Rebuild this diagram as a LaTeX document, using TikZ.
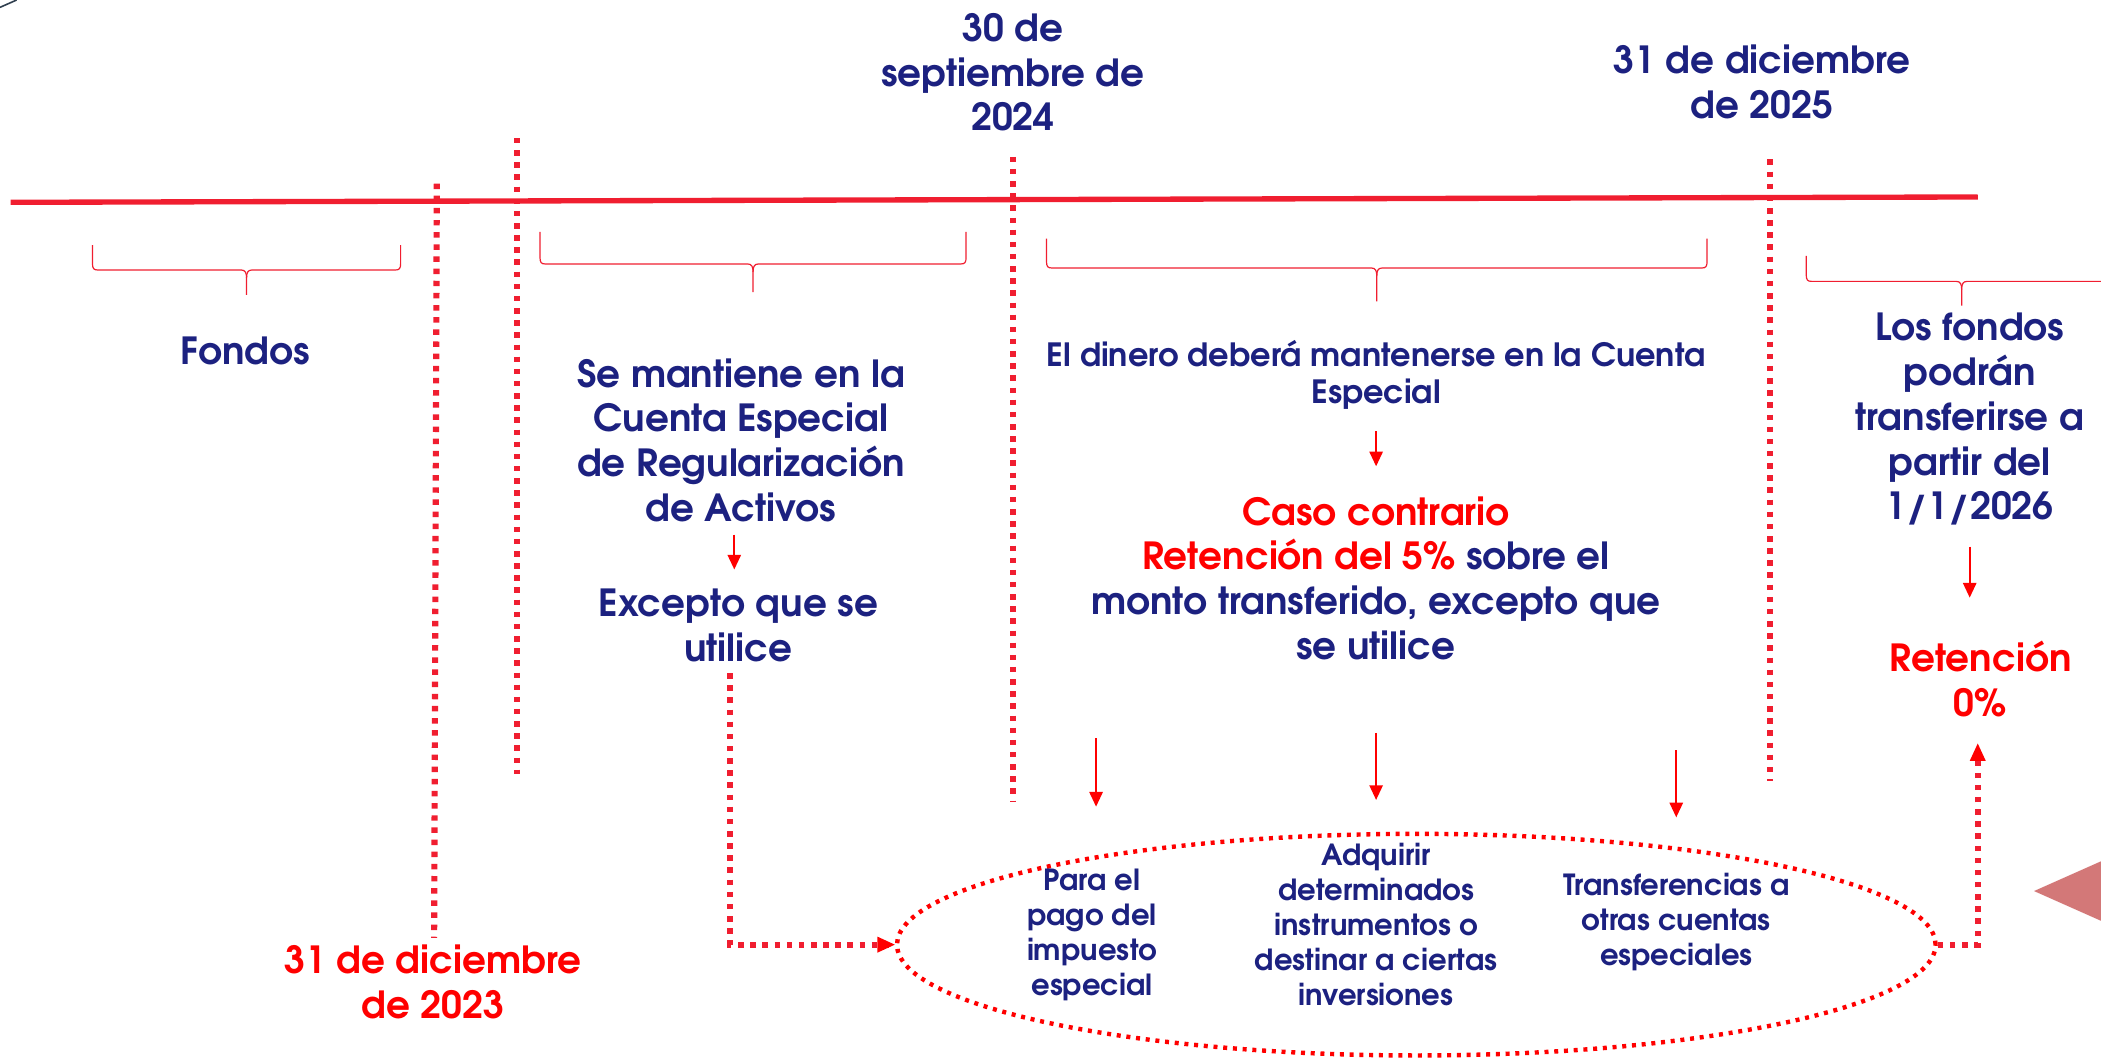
\documentclass[tikz,border=0pt]{standalone}
\usepackage{fontspec}
\setmainfont{texgyreadventor}[Extension=.otf,UprightFont=*-regular,BoldFont=*-bold,ItalicFont=*-italic,BoldItalicFont=*-bolditalic]
\usetikzlibrary{arrows.meta,shapes.geometric}
\definecolor{navy}{RGB}{28,33,128}
\definecolor{tlred}{RGB}{240,30,48}
\definecolor{pure}{RGB}{255,0,0}
\definecolor{tri}{RGB}{211,120,120}
\definecolor{slate}{RGB}{47,62,78}
\tikzset{
  txt/.style={text=navy, font=\bfseries\fontsize{28}{33.5}\selectfont, align=center, inner sep=0pt},
  rtxt/.style={txt, text=pure},
  stxt/.style={text=navy, font=\bfseries\fontsize{24}{28}\selectfont, align=center, inner sep=0pt},
  etxt/.style={text=navy, font=\bfseries\fontsize{21.8}{26.3}\selectfont, align=center, inner sep=0pt},
  dotv/.style={tlred, line width=4.6pt, dash pattern=on 4.1pt off 5pt},
  dotc/.style={tlred, line width=4.6pt, dash pattern=on 4.1pt off 5pt},
  bracel/.style={tlred, line width=0.9pt},
  arr/.style={pure, line width=1.3pt, -{Triangle[width=10pt,length=11pt]}},
  ellstyle/.style={ellipse, draw=pure, line width=3.3pt, dash pattern=on 3pt off 4.3pt, minimum width=778pt, minimum height=166pt, inner sep=0pt}
}
\newcommand\mybrace[5]{%
  \draw[bracel] (#1,#3) -- (#1,{#4-5}) .. controls (#1,{#4-1}) and ({#1+1},#4) .. ({#1+4},#4)
     -- ({(#1+#2)/2-4},#4) .. controls ({(#1+#2)/2-1},#4) and ({(#1+#2)/2},{#4+2}) .. ({(#1+#2)/2},{#4+6}) -- ({(#1+#2)/2},#5);
  \draw[bracel] (#2,#3) -- (#2,{#4-5}) .. controls (#2,{#4-1}) and ({#2-1},#4) .. ({#2-4},#4)
     -- ({(#1+#2)/2+4},#4) .. controls ({(#1+#2)/2+1},#4) and ({(#1+#2)/2},{#4+2}) .. ({(#1+#2)/2},{#4+6});
}
\begin{document}
\begin{tikzpicture}[x=1bp,y=-1bp]
\useasboundingbox (0,0) rectangle (1568,790);
% decoration top-left
\draw[slate, line width=1.2pt] (0,5.5) -- (12.4,0);
% pink triangle at right edge
\fill[tri] (1518,665) -- (1590,633) -- (1590,697) -- cycle;
% timeline
\coordinate (tl0) at (8,151);
\coordinate (tl1) at (1476,147);
\draw[tlred, line width=4pt] (tl0) -- (tl1);
% vertical dotted markers
\coordinate (d1a) at (326,137); \coordinate (d1b) at (324,700);
\coordinate (d2a) at (386,103); \coordinate (d2b) at (386,578);
\coordinate (d3a) at (756,117); \coordinate (d3b) at (756,598);
\coordinate (d4a) at (1321,119); \coordinate (d4b) at (1321,583);
\draw[dotv] (d1a) -- (d1b);
\draw[dotv] (d2a) -- (d2b);
\draw[dotv] (d3a) -- (d3b);
\draw[dotv] (d4a) -- (d4b);
% braces
\mybrace{69}{299}{183}{201.5}{220}
\mybrace{403}{721}{173}{197}{218}
\mybrace{781}{1274}{178}{200}{225}
\mybrace{1348}{1580}{191}{210}{228}
% date labels
\node[txt] (t30) at (756,54) {30 de\\septiembre de\\2024};
\node[txt] (t25) at (1315,61) {31 de diciembre\\de 2025};
\node[rtxt] (t23) at (323,733) {31 de diciembre\\de 2023};
% period texts
\node[txt] (fondos) at (183,262) {Fondos};
\node[txt] (sm) at (553,328.5) {Se mantiene en la\\Cuenta Especial\\de Regularización\\de Activos};
\node[txt] (ex) at (551,467) {Excepto que se\\utilice};
\node[stxt] (din) at (1027,280) {El dinero deberá mantenerse en la Cuenta\\Especial};
\node[txt] (caso) at (1027,431.5) {{\color{pure}Caso contrario}\\{\color{pure}Retención del 5\%} sobre el\\monto transferido, excepto que\\se utilice};
\node[txt] (lf) at (1470,313) {Los fondos\\podrán\\transferirse a\\partir del\\1/1/2026};
\node[rtxt] (r0) at (1478,506.5) {Retención\\0\%};
% ellipse with options
\node[ellstyle] (ell) at (1057,705) {};
\node[etxt] (e1) at (815,697.5) {Para el\\pago del\\impuesto\\especial};
\node[etxt] (e2) at (1027,690) {Adquirir\\determinados\\instrumentos o\\destinar a ciertas\\inversiones};
\node[etxt] (e3) at (1251,688) {Transferencias a\\otras cuentas\\especiales};
% short arrows
\coordinate (a1s) at (548,399); \coordinate (a1e) at (548,425);
\coordinate (a2s) at (1027,322); \coordinate (a2e) at (1027,348);
\coordinate (a3s) at (1470,408); \coordinate (a3e) at (1470,446);
\coordinate (a4s) at (818,551); \coordinate (a4e) at (818,602);
\coordinate (a5s) at (1027,547); \coordinate (a5e) at (1027,597);
\coordinate (a6s) at (1251,560); \coordinate (a6e) at (1251,610);
\draw[arr] (a1s) -- (a1e);
\draw[arr] (a2s) -- (a2e);
\draw[arr] (a3s) -- (a3e);
\draw[arr] (a4s) -- (a4e);
\draw[arr] (a5s) -- (a5e);
\draw[arr] (a6s) -- (a6e);
% dotted connectors
\draw[dotc] ([xshift=-6pt,yshift=-8pt]ex.south) |- (ell.west);
\fill[pure] (ell.west) -- ++(-13,-6) -- ++(0,12) -- cycle;
\draw[dotc, shorten >=13pt] (ell.east) -| ([xshift=-2pt,yshift=-20pt]r0.south);
\fill[pure] ([xshift=-2pt,yshift=-20pt]r0.south) -- ++(-6,13) -- ++(12,0) -- cycle;
\end{tikzpicture}
\end{document}
